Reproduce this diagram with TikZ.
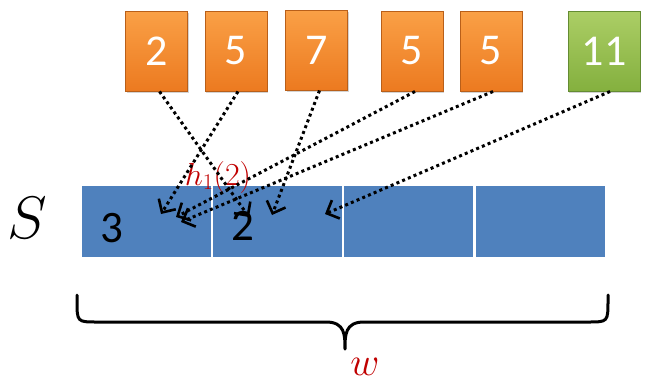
\RequirePackage{fix-cm}
\documentclass[tikz,border=0pt]{standalone}
\usepackage{fontspec}
\setmainfont{Carlito}
\usetikzlibrary{arrows.meta,shadows}
\definecolor{cellblue}{RGB}{79,129,189}
\definecolor{hred}{RGB}{192,0,0}
\definecolor{otop}{RGB}{250,160,70}
\definecolor{obot}{RGB}{236,122,32}
\definecolor{odraw}{RGB}{185,95,25}
\definecolor{gtop}{RGB}{172,206,102}
\definecolor{gbot}{RGB}{132,176,62}
\definecolor{gdraw}{RGB}{100,140,50}
\tikzset{
  obox/.style={rectangle, top color=otop, bottom color=obot, draw=odraw, line width=1pt,
    minimum width=62pt, minimum height=80pt, inner sep=0pt, text=white,
    font=\fontsize{44}{44}\selectfont,
    drop shadow={shadow xshift=1pt, shadow yshift=-2pt, opacity=0.35}},
  gbox/.style={obox, top color=gtop, bottom color=gbot, draw=gdraw, minimum width=72pt},
  cell/.style={rectangle, fill=cellblue, minimum width=129pt, minimum height=71pt, inner sep=0pt},
  dig/.style={font=\fontsize{45}{45}\selectfont, text=black, inner sep=0pt},
  hashline/.style={line width=3pt, dash pattern=on 3pt off 3.2pt,
    -{Straight Barb[length=10pt,width=20pt,line width=2.6pt]}},
  bracestyle/.style={line width=3pt, line cap=round, line join=round}
}
\begin{document}
\begin{tikzpicture}[x=1pt,y=-1pt]
\useasboundingbox (0,0) rectangle (654,386);
% input boxes
\node[obox] (b1) at (156.5,51) {2};
\node[obox] (b2) at (236,51) {5};
\node[obox] (b3) at (316.5,50) {7};
\node[obox] (b4) at (412,51) {5};
\node[obox] (b5) at (491,51) {5};
\node[gbox] (b6) at (604,51) {11};
% sketch cells
\node[cell] (c1) at (146.5,221.5) {};
\node[cell] (c2) at (277.5,221.5) {};
\node[cell] (c3) at (408.5,221.5) {};
\node[cell] (c4) at (540,221.5) {};
\node[dig] (v1) at (112,228) {3};
\node[dig] (v2) at (243,226) {2};
\node[inner sep=0pt] (S) at (27,218) {\fontsize{60}{60}\selectfont$S$};
\node[inner sep=0pt, text=hred] (h) at (218,177) {\fontsize{32}{32}\selectfont$h_1(2)$};
% arrow targets
\coordinate (t1) at (249,217);
\coordinate (t2) at (161,214);
\coordinate (t3) at (272,215);
\coordinate (t4) at (176,217);
\coordinate (t5) at (181,222);
\coordinate (t6) at (325,214);
\draw[hashline] ([xshift=3pt]b1.south) -- (t1);
\draw[hashline] ([xshift=2pt]b2.south) -- (t2);
\draw[hashline] ([xshift=3pt]b3.south) -- (t3);
\draw[hashline] ([xshift=3pt]b4.south) -- (t4);
\draw[hashline] ([xshift=2pt]b5.south) -- (t5);
\draw[hashline] ([xshift=6pt]b6.south) -- (t6);
% brace
\coordinate (bl) at (77,295);
\coordinate (br) at (608,295);
\coordinate (btip) at (345,349);
\draw[bracestyle] (bl) -- (77,300) .. controls (77,322) .. (97,322) -- (326,322)
  .. controls (345,322) and (345,335) .. (btip)
  .. controls (345,335) and (345,322) .. (364,322) -- (588,322)
  .. controls (608,322) .. (608,300) -- (br);
\node[inner sep=0pt, text=hred] (w) at (365,367) {\fontsize{40}{40}\selectfont$w$};
\end{tikzpicture}
\end{document}
